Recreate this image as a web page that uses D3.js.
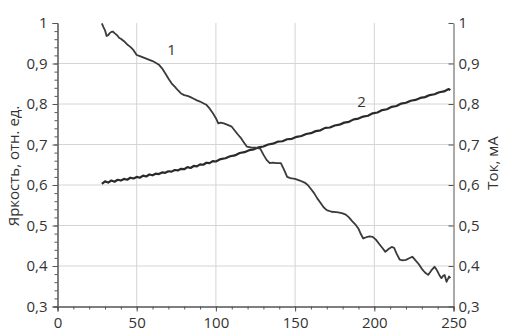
<!DOCTYPE html>
<html><head><meta charset="utf-8">
<script src="https://cdn.jsdelivr.net/npm/d3@7"></script>
<style>
body{margin:0;background:#fff;}
svg text{font-family:"Open Sans",sans-serif;fill:#333;}
</style></head><body>
<svg id="chart" width="510" height="331"></svg>
<script>
const xTicks = [0, 50, 100, 150, 200, 250];
const yTicks = [0.3, 0.4, 0.5, 0.6, 0.7, 0.8, 0.9, 1];
const yTickLabels = ["0,3", "0,4", "0,5", "0,6", "0,7", "0,8", "0,9", "1"];
const leftTitle = "Яркость, отн. ед.";
const rightTitle = "Ток, мА";

const brightX = [28,29,30,31,32,33,34,35,36,37,38,39,40,42,44,46,48,50,52,54,56,58,60,62,64,66,68,70,72,74,76,78,80,82,84,86,88,90,92,94,96,98,100,101.5,103,105,107,110,112,114,116,118,119.5,122,125,128,130,132,134,136,138,141,143,145,147,150,153,156,158,160,162,164,166,168,170,173,176,178,180,182,184,186,188,190,191.5,193,195,197,199,201,203,205,207,209,211,212.5,214,216,218,220,222,224,226,228,230,232,234,236,238,239,240,241,242.4,243.5,244.4,245.6,246.5,247.2,248];
const brightY = [0.999,0.990,0.982,0.968,0.970,0.975,0.978,0.979,0.975,0.972,0.968,0.963,0.961,0.955,0.947,0.941,0.933,0.921,0.918,0.915,0.912,0.909,0.906,0.902,0.897,0.888,0.876,0.863,0.851,0.843,0.834,0.826,0.822,0.820,0.817,0.813,0.809,0.806,0.802,0.798,0.789,0.778,0.765,0.752,0.754,0.752,0.749,0.744,0.734,0.724,0.715,0.703,0.695,0.693,0.692,0.690,0.675,0.662,0.654,0.655,0.654,0.654,0.638,0.620,0.617,0.615,0.611,0.606,0.600,0.590,0.580,0.567,0.556,0.545,0.538,0.534,0.533,0.532,0.530,0.527,0.520,0.511,0.503,0.492,0.479,0.468,0.471,0.473,0.472,0.465,0.455,0.445,0.435,0.442,0.447,0.445,0.431,0.416,0.414,0.415,0.419,0.423,0.414,0.405,0.393,0.384,0.378,0.389,0.398,0.393,0.386,0.378,0.370,0.376,0.378,0.361,0.368,0.374,0.370];

const currentX = [28,30,32,34,36,38,40,42,44,46,48,50,52,54,56,58,60,62,64,66,68,70,72,74,76,78,80,82,84,86,88,90,92,94,96,98,100,103,106,109,112,115,118,121,124,127,130,133,136,139,142,145,148,151,154,157,160,163,166,169,172,175,178,181,184,187,190,193,196,199,202,205,208,211,214,217,220,223,226,229,232,235,238,241,244,247,248];
const currentY = [0.603,0.609,0.606,0.611,0.608,0.613,0.611,0.615,0.613,0.618,0.616,0.620,0.618,0.623,0.621,0.626,0.624,0.628,0.627,0.631,0.630,0.634,0.633,0.637,0.636,0.640,0.639,0.644,0.642,0.647,0.646,0.651,0.650,0.655,0.654,0.659,0.658,0.664,0.666,0.671,0.673,0.679,0.681,0.686,0.688,0.693,0.695,0.700,0.702,0.707,0.708,0.713,0.714,0.719,0.721,0.726,0.728,0.733,0.735,0.741,0.742,0.747,0.749,0.754,0.756,0.762,0.764,0.769,0.771,0.777,0.779,0.785,0.787,0.793,0.795,0.801,0.803,0.808,0.810,0.815,0.817,0.822,0.824,0.829,0.831,0.837,0.834];

const curveLabels = [{t:"1", x:72, y:0.935}, {t:"2", x:192, y:0.808}];

const svg = d3.select("#chart");
const L = 57.5, R = 453.5, T = 23, B = 306.5;
const x = d3.scaleLinear().domain([0, 250]).range([L, R]);
const y = d3.scaleLinear().domain([0.3, 1]).range([B, T]);
const axisColor = "#555";

// grid
const g = svg.append("g");
g.selectAll(".hg").data(yTicks.filter(v => v > 0.3 && v < 1)).enter().append("line")
  .attr("x1", L).attr("x2", R).attr("y1", d => y(d)).attr("y2", d => y(d))
  .attr("stroke", "#d4d4d4").attr("stroke-width", 1);
g.selectAll(".vg").data(xTicks.filter(v => v > 0 && v < 250)).enter().append("line")
  .attr("y1", T).attr("y2", B).attr("x1", d => x(d)).attr("x2", d => x(d))
  .attr("stroke", "#d4d4d4").attr("stroke-width", 1);

// bottom axis
const bx = svg.append("g").attr("transform", `translate(0,${B})`);
bx.call(d3.axisBottom(x).tickValues(d3.range(0, 251, 10)).tickSize(3).tickFormat(""));
bx.call(g2 => g2.selectAll(".tick line").attr("stroke", axisColor));
const bxm = svg.append("g").attr("transform", `translate(0,${B})`);
bxm.call(d3.axisBottom(x).tickValues(xTicks).tickSize(5).tickPadding(6).tickFormat(d => d));
[bx, bxm].forEach(a => { a.select(".domain").attr("stroke", axisColor); a.selectAll(".tick line").attr("stroke", axisColor); });
bxm.selectAll("text").attr("font-size", 15).attr("fill", "#333").attr("font-family", "Open Sans");

// left axis
const lyMinor = svg.append("g").attr("transform", `translate(${L},0)`);
lyMinor.call(d3.axisLeft(y).tickValues(d3.range(0, 36).map(i => 0.3 + i * 0.02)).tickSize(3).tickFormat(""));
const ly = svg.append("g").attr("transform", `translate(${L},0)`);
ly.call(d3.axisLeft(y).tickValues(yTicks).tickSize(5).tickPadding(5).tickFormat((d, i) => yTickLabels[i]));
[lyMinor, ly].forEach(a => { a.select(".domain").attr("stroke", axisColor); a.selectAll(".tick line").attr("stroke", axisColor); });
ly.selectAll("text").attr("font-size", 15).attr("fill", "#333").attr("font-family", "Open Sans");

// right axis
const ry = svg.append("g").attr("transform", `translate(${R},0)`);
ry.call(d3.axisRight(y).tickValues(yTicks).tickSizeInner(-5).tickSizeOuter(0).tickPadding(5).tickFormat((d, i) => yTickLabels[i]));
ry.select(".domain").attr("stroke", axisColor);
ry.selectAll(".tick line").attr("stroke", axisColor);
ry.selectAll("text").attr("font-size", 15).attr("fill", "#333").attr("font-family", "Open Sans").attr("x", 5);

// titles
svg.append("text").attr("transform", "translate(19,166) rotate(-90)")
  .attr("text-anchor", "middle").attr("font-size", 15).text(leftTitle);
svg.append("text").attr("transform", "translate(498,163) rotate(-90)")
  .attr("text-anchor", "middle").attr("font-size", 15).text(rightTitle);

// curves
const line = d3.line().x(d => x(d[0])).y(d => y(d[1]));
const bright = brightX.map((v, i) => [v, brightY[i]]);
const current = currentX.map((v, i) => [v, currentY[i]]);
svg.append("path").datum(current).attr("d", line).attr("fill", "none")
  .attr("stroke", "#2a2a2a").attr("stroke-width", 2.2).attr("stroke-linejoin", "round");
svg.append("path").datum(bright).attr("d", line).attr("fill", "none")
  .attr("stroke", "#3a3a3a").attr("stroke-width", 1.8).attr("stroke-linejoin", "round");

svg.selectAll(".cl").data(curveLabels).enter().append("text")
  .attr("x", d => x(d.x)).attr("y", d => y(d.y)).attr("text-anchor", "middle")
  .attr("dominant-baseline", "central").attr("font-size", 15).text(d => d.t);
</script></body></html>
